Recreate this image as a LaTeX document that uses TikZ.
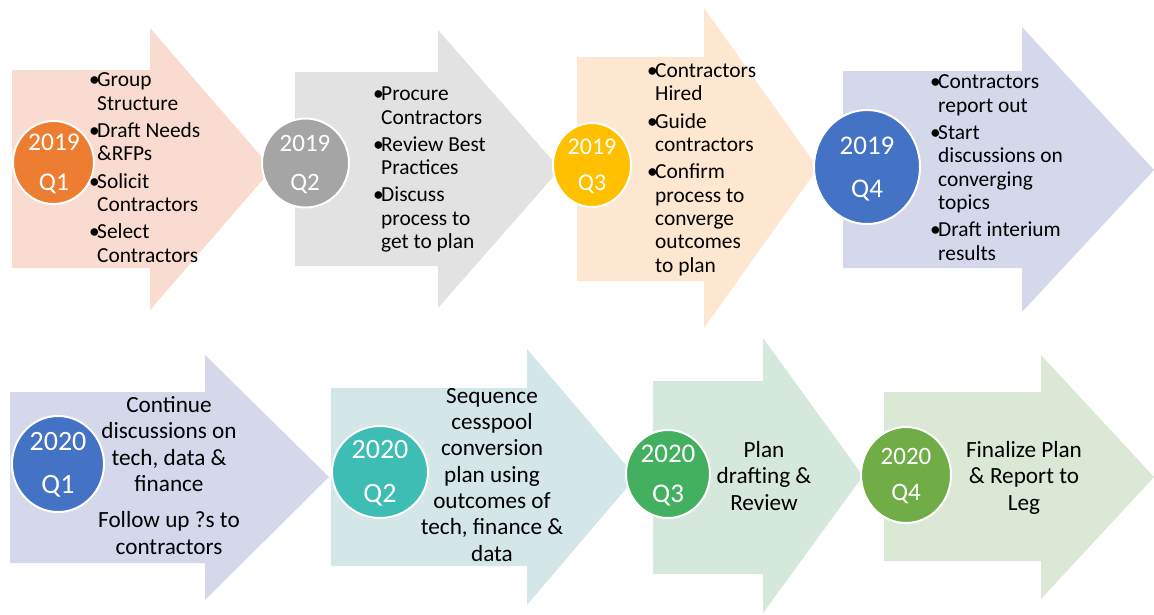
\documentclass[tikz,border=0pt]{standalone}
\usepackage{fontspec}
\setmainfont{Carlito}
\usetikzlibrary{shapes.geometric}
\definecolor{aA}{HTML}{F9DBD0}
\definecolor{aB}{HTML}{E2E2E2}
\definecolor{aC}{HTML}{FDE7D0}
\definecolor{aD}{HTML}{D5D8EB}
\definecolor{aE}{HTML}{D5D8EB}
\definecolor{aF}{HTML}{D3E6E8}
\definecolor{aG}{HTML}{D4E8DC}
\definecolor{aH}{HTML}{DBE8D5}
\definecolor{cA}{HTML}{ED7D31}
\definecolor{cB}{HTML}{A5A5A5}
\definecolor{cC}{HTML}{FFC000}
\definecolor{cD}{HTML}{4472C4}
\definecolor{cE}{HTML}{4472C4}
\definecolor{cF}{HTML}{3EBDB4}
\definecolor{cG}{HTML}{42B05F}
\definecolor{cH}{HTML}{70AD47}
\newcommand{\tlarrow}[9]{\fill[#1] (#2,#3) -- (#5,#3) -- (#5,#6) -- (#8,#9) -- (#5,#7) -- (#5,#4) -- (#2,#4) -- cycle;}
\newcommand{\bul}{\makebox[8pt][l]{•}}
\newcommand{\ind}{\hspace*{8pt}}
\tikzset{
  qcirc/.style={ellipse, draw=white, line width=2pt, inner sep=0pt},
  qlab/.style={text=white, anchor=base, inner sep=0pt},
  btext/.style={anchor=base west, align=left, inner sep=0pt, text=black,
    font=\fontsize{21.4}{23.3}\selectfont},
  ctext/.style={anchor=base, align=center, inner sep=0pt, text=black,
    font=\fontsize{23.2}{26.3}\selectfont},
}
\begin{document}
\begin{tikzpicture}[x=1pt,y=-1pt]
\useasboundingbox (0,0) rectangle (1154,614);
\fill[white] (0,0) rectangle (1154,614);
% row 1 arrows
\tlarrow{aA}{12}{70}{268}{150}{28}{310}{272}{169}
\tlarrow{aB}{295}{72}{266}{438}{30}{308}{560}{169}
\tlarrow{aC}{577}{57}{281}{704}{8}{328}{818}{168}
\tlarrow{aD}{843}{71}{268}{1022}{27}{312}{1154}{170}
% row 2 arrows
\tlarrow{aE}{10}{392}{563}{205}{355}{600}{329}{477}
\tlarrow{aF}{331}{388}{566}{527}{349}{605}{636}{477}
\tlarrow{aG}{653}{381}{574}{763}{338}{613}{863}{476}
\tlarrow{aH}{884}{392}{561}{1041}{355}{599}{1154}{477}
% circles
\node[qcirc, fill=cA, minimum width=81pt, minimum height=83pt] (c1) at (53.5,162.5) {};
\node[qcirc, fill=cB, minimum width=87pt, minimum height=89pt] (c2) at (305.5,163) {};
\node[qcirc, fill=cC, minimum width=78pt, minimum height=84pt] (c3) at (592,165) {};
\node[qcirc, fill=cD, minimum width=106pt, minimum height=114pt] (c4) at (867,167) {};
\node[qcirc, fill=cE, minimum width=92pt, minimum height=96pt] (d1) at (58,464) {};
\node[qcirc, fill=cF, minimum width=96pt, minimum height=92pt] (d2) at (380,472) {};
\node[qcirc, fill=cG, minimum width=84pt, minimum height=88pt] (d3) at (668,474) {};
\node[qcirc, fill=cH, minimum width=90pt, minimum height=96pt] (d4) at (906,475) {};
% circle labels
\node[qlab, font=\fontsize{25.5}{30}\selectfont] (c1y) at (54,150) {2019};
\node[qlab, font=\fontsize{25.5}{30}\selectfont] (c1q) at (54,190) {Q1};
\node[qlab, font=\fontsize{25}{30}\selectfont] (c2y) at (305,151) {2019};
\node[qlab, font=\fontsize{25}{30}\selectfont] (c2q) at (305,190) {Q2};
\node[qlab, font=\fontsize{24}{30}\selectfont] (c3y) at (592,154) {2019};
\node[qlab, font=\fontsize{24}{30}\selectfont] (c3q) at (592,190) {Q3};
\node[qlab, font=\fontsize{27}{30}\selectfont] (c4y) at (867,154) {2019};
\node[qlab, font=\fontsize{27}{30}\selectfont] (c4q) at (867,197) {Q4};
\node[qlab, font=\fontsize{28}{30}\selectfont] (d1y) at (58,450) {2020};
\node[qlab, font=\fontsize{28}{30}\selectfont] (d1q) at (58,493) {Q1};
\node[qlab, font=\fontsize{28}{30}\selectfont] (d2y) at (380,458) {2020};
\node[qlab, font=\fontsize{28}{30}\selectfont] (d2q) at (380,502) {Q2};
\node[qlab, font=\fontsize{27}{30}\selectfont] (d3y) at (668,462) {2020};
\node[qlab, font=\fontsize{27}{30}\selectfont] (d3q) at (668,502) {Q3};
\node[qlab, font=\fontsize{25}{30}\selectfont] (d4y) at (906,464) {2020};
\node[qlab, font=\fontsize{25}{30}\selectfont] (d4q) at (906,500) {Q4};
% row 1 texts (anchor at baseline of last line)
\node[btext] (t1) at (89,262) {\bul Group\\\ind Structure\\[4pt]\bul Draft Needs\\\ind\&RFPs\\[4pt]\bul Solicit\\\ind Contractors\\[4pt]\bul Select\\\ind Contractors};
\node[btext] (t2) at (373,248.5) {\bul Procure\\\ind Contractors\\[4pt]\bul Review Best\\\ind Practices\\[4pt]\bul Discuss\\\ind process to\\\ind get to plan};
\node[btext] (t3) at (647,272) {\bul Contractors\\\ind Hired\\[4pt]\bul Guide\\\ind contractors\\[4pt]\bul Confirm\\\ind process to\\\ind converge\\\ind outcomes\\\ind to plan};
\node[btext] (t4) at (930,260) {\bul Contractors\\\ind report out\\[4pt]\bul Start\\\ind discussions on\\\ind converging\\\ind topics\\[4pt]\bul Draft interium\\\ind results};
% row 2 texts
\node[ctext] (u1) at (169,554) {Continue\\discussions on\\tech, data \&\\finance\\[10pt]Follow up ?s to\\contractors};
\node[ctext] (u2) at (492,561) {Sequence\\cesspool\\conversion\\plan using\\outcomes of\\tech, finance \&\\data};
\node[ctext] (u3) at (764,510) {Plan\\drafting \&\\Review};
\node[ctext] (u4) at (1024,510) {Finalize Plan\\\& Report to\\Leg};
\end{tikzpicture}
\end{document}
